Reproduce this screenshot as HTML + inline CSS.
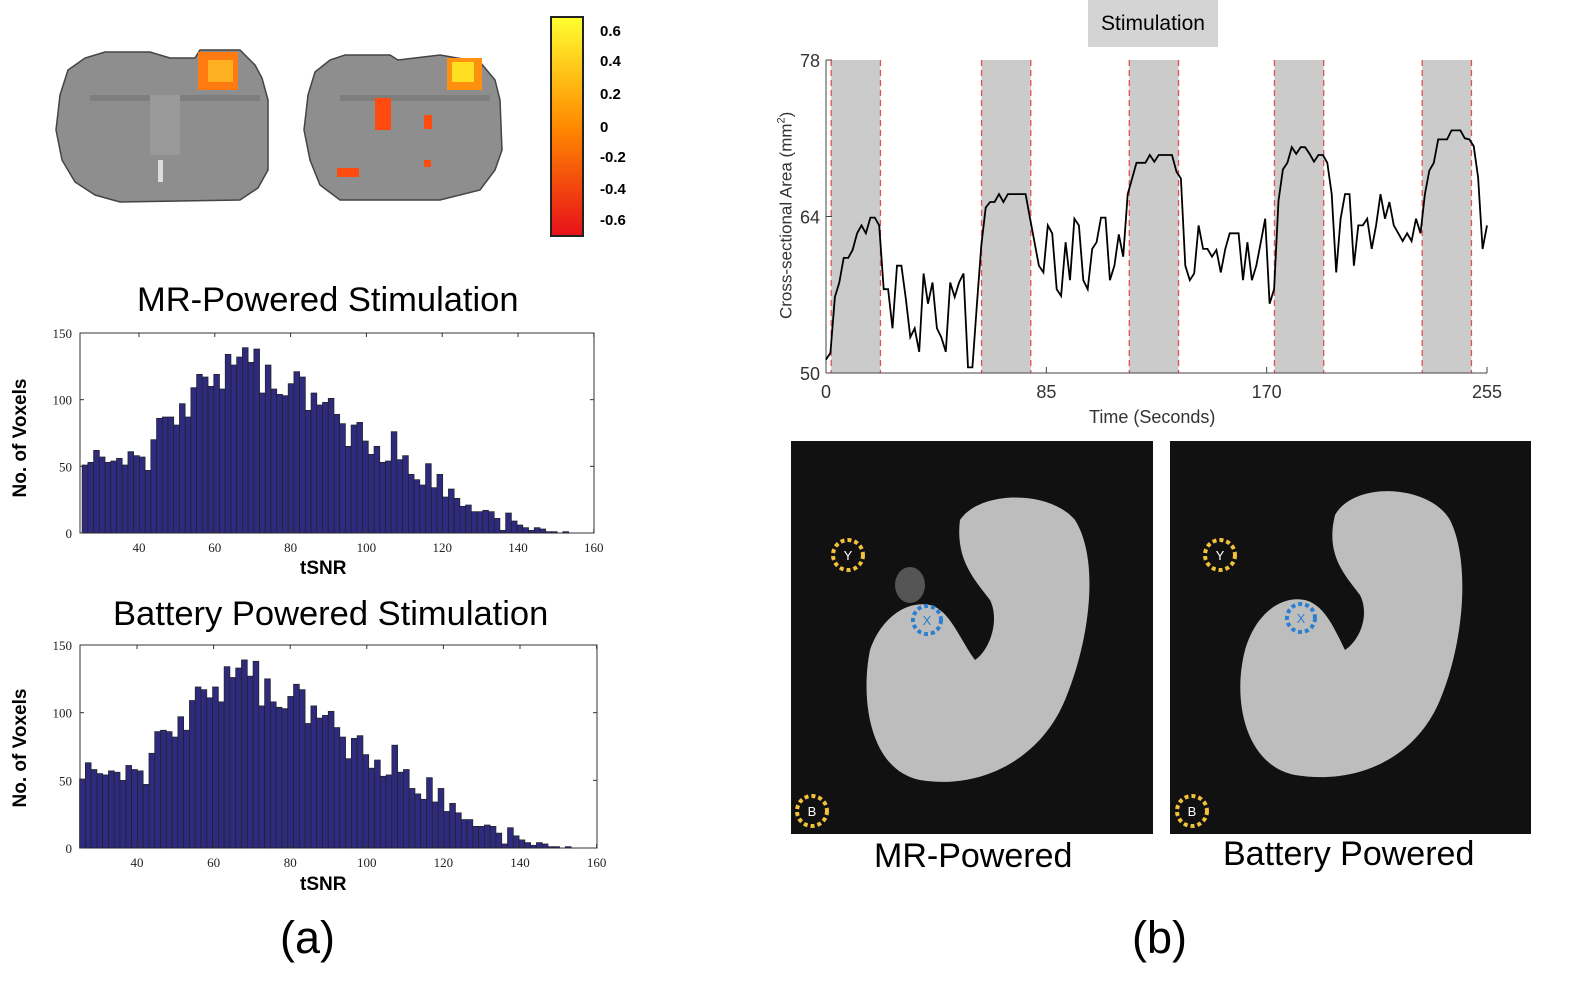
<!DOCTYPE html>
<html><head><meta charset="utf-8">
<style>
html,body{margin:0;padding:0;background:#fff;}
body{width:1572px;height:1001px;position:relative;overflow:hidden;font-family:"Liberation Sans",sans-serif;}
.t{position:absolute;white-space:nowrap;color:#000;}
</style></head>
<body>
<svg id="fig" width="1572" height="1001" style="position:absolute;left:0;top:0">
 <defs>
  <linearGradient id="cb" x1="0" y1="1" x2="0" y2="0">
   <stop offset="0" stop-color="#e8101a"/><stop offset="0.5" stop-color="#ff8a00"/><stop offset="1" stop-color="#ffff30"/>
  </linearGradient>
 </defs>
 <!-- brain slices -->
 <g>
  <path d="M60,95 L68,70 L85,58 L105,52 L150,52 L170,58 L195,58 L200,50 L240,50 L255,65 L262,78 L268,100 L268,170 L258,188 L240,200 L120,202 L95,195 L75,182 L62,160 L56,130 Z" fill="#8e8e8e" stroke="#444" stroke-width="1.5"/>
  <rect x="90" y="95" width="170" height="6" fill="#7e7e7e"/>
  <rect x="150" y="95" width="30" height="60" fill="#999"/>
  <rect x="158" y="160" width="5" height="22" fill="#ddd"/>
  <rect x="198" y="52" width="40" height="38" fill="#ff7a10"/>
  <rect x="208" y="60" width="25" height="22" fill="#ffb020"/>
 </g>
 <g>
  <path d="M308,95 L315,72 L330,60 L345,55 L390,55 L398,60 L440,55 L480,62 L495,80 L500,100 L502,150 L495,170 L480,190 L440,200 L340,200 L320,185 L310,160 L304,130 Z" fill="#8e8e8e" stroke="#444" stroke-width="1.5"/>
  <rect x="340" y="95" width="150" height="6" fill="#7e7e7e"/>
  <rect x="447" y="58" width="35" height="32" fill="#ff9010"/>
  <rect x="452" y="62" width="22" height="20" fill="#ffe020"/>
  <rect x="375" y="98" width="16" height="32" fill="#ff4a10"/>
  <rect x="424" y="115" width="8" height="14" fill="#ff4a10"/>
  <rect x="337" y="168" width="22" height="9" fill="#ff4a10"/>
  <rect x="424" y="160" width="7" height="7" fill="#ff4a10"/>
 </g>
 <rect x="551" y="17" width="32" height="219" fill="url(#cb)" stroke="#222" stroke-width="2"/>
 <g id="cblabels" font-family="Liberation Sans" font-weight="bold" font-size="15" fill="#000"></g>

 <g id="hist1"></g>
 <g id="hist2"></g>
 <g id="line"></g>

 <!-- MRI images -->
 <g>
  <rect x="791" y="441" width="362" height="393" fill="#111"/>
  <path d="M960,520 C980,490 1050,490 1075,520 C1100,560 1090,640 1065,700 C1040,760 980,790 920,780 C870,770 860,700 870,650 C880,620 905,600 930,605 C950,610 960,640 975,660 C990,650 1000,620 990,600 C975,580 955,560 960,520 Z" fill="#bdbdbd"/>
  <ellipse cx="910" cy="585" rx="15" ry="18" fill="#555"/>
  <circle cx="848" cy="555" r="15" fill="none" stroke="#f2c23a" stroke-width="4" stroke-dasharray="4 3"/>
  <text x="848" y="560" font-size="13" fill="#fff" text-anchor="middle">Y</text>
  <circle cx="927" cy="620" r="14" fill="none" stroke="#2a7fd0" stroke-width="4" stroke-dasharray="4 3"/>
  <text x="927" y="625" font-size="13" fill="#2a7fd0" text-anchor="middle">X</text>
  <circle cx="812" cy="811" r="15" fill="none" stroke="#f2c23a" stroke-width="4" stroke-dasharray="4 3"/>
  <text x="812" y="816" font-size="13" fill="#fff" text-anchor="middle">B</text>
 </g>
 <g>
  <rect x="1170" y="441" width="361" height="393" fill="#111"/>
  <path d="M1335,515 C1355,480 1430,485 1450,520 C1470,560 1465,640 1440,700 C1415,760 1355,785 1295,775 C1245,765 1232,700 1245,650 C1255,615 1280,595 1305,600 C1325,605 1335,630 1345,650 C1360,640 1370,615 1360,595 C1345,575 1325,555 1335,515 Z" fill="#bdbdbd"/>
  <circle cx="1220" cy="555" r="15" fill="none" stroke="#f2c23a" stroke-width="4" stroke-dasharray="4 3"/>
  <text x="1220" y="560" font-size="13" fill="#fff" text-anchor="middle">Y</text>
  <circle cx="1301" cy="618" r="14" fill="none" stroke="#2a7fd0" stroke-width="4" stroke-dasharray="4 3"/>
  <text x="1301" y="623" font-size="13" fill="#2a7fd0" text-anchor="middle">X</text>
  <circle cx="1192" cy="811" r="15" fill="none" stroke="#f2c23a" stroke-width="4" stroke-dasharray="4 3"/>
  <text x="1192" y="816" font-size="13" fill="#fff" text-anchor="middle">B</text>
 </g>
</svg>

<div class="t" style="left:137px;top:281px;font-size:34.5px">MR-Powered Stimulation</div>
<div class="t" style="left:113px;top:595px;font-size:34.5px">Battery Powered Stimulation</div>
<div class="t" style="left:-39px;top:427px;font-size:19px;font-weight:bold;transform:rotate(-90deg);width:120px;text-align:center">No. of Voxels</div>
<div class="t" style="left:-39px;top:737px;font-size:19px;font-weight:bold;transform:rotate(-90deg);width:120px;text-align:center">No. of Voxels</div>
<div class="t" style="left:300px;top:558px;font-size:19px;font-weight:bold">tSNR</div>
<div class="t" style="left:300px;top:874px;font-size:19px;font-weight:bold">tSNR</div>
<div class="t" style="left:280px;top:912px;font-size:45px">(a)</div>
<div class="t" style="left:1132px;top:912px;font-size:45px">(b)</div>
<div class="t" style="left:1088px;top:0px;width:130px;height:47px;background:#d4d4d4;font-size:21px;line-height:47px;text-align:center">Stimulation</div>
<div class="t" style="left:676px;top:205px;width:220px;text-align:center;font-size:17px;color:#333;transform:rotate(-90deg)">Cross-sectional Area (mm<sup style="font-size:11px">2</sup>)</div>
<div class="t" style="left:1089px;top:407px;font-size:18px;color:#333">Time (Seconds)</div>
<div class="t" style="left:874px;top:837px;font-size:34px">MR-Powered</div>
<div class="t" style="left:1223px;top:835px;font-size:34px">Battery Powered</div>

<script>
const NS='http://www.w3.org/2000/svg';
function mk(tag,attrs,parent){const e=document.createElementNS(NS,tag);for(const k in attrs)e.setAttribute(k,attrs[k]);parent.appendChild(e);return e;}

// colorbar labels
const cbTicks=['0.6','0.4','0.2','0','-0.2','-0.4','-0.6'];
const cbY=[31,61,94,127,157,189,220];
const cbg=document.getElementById('cblabels');
cbTicks.forEach((t,i)=>{const e=mk('text',{x:600,y:cbY[i]+5},cbg);e.textContent=t;

});

// histogram data
const histStart=25;
const histBinWidth=1.51;
const histCounts1=[51,53,62,57,53,54,56,51,61,58,57,47,70,86,87,87,81,97,87,109,119,117,110,119,108,134,126,132,139,128,138,105,126,108,104,103,112,121,117,92,105,96,98,101,89,82,65,81,83,69,59,65,53,54,76,55,58,44,40,36,52,34,44,27,33,26,20,21,16,16,17,16,11,2,15,9,6,4,2,4,3,1,1,0,1,0];
const histCounts2=[51,63,58,55,54,57,56,50,61,58,57,47,70,86,87,86,82,97,87,109,119,117,111,119,108,134,126,133,139,127,138,105,125,108,104,103,112,121,117,92,105,96,98,101,89,82,66,81,83,69,59,65,53,54,76,56,58,44,40,36,52,34,44,27,33,26,21,21,16,16,17,16,11,3,15,9,6,4,2,4,3,1,1,0,1,0];
const histXTicks=[40,60,80,100,120,140,160];
const histYTicks=[0,50,100,150];

function drawHist(g,counts,box){
  const xs=v=>box.x0+(v-box.vmin)*box.k;
  const ys=c=>box.y1-c/150*(box.y1-box.y0);
  mk('rect',{x:box.xl,y:box.y0,width:box.xr-box.xl,height:box.y1-box.y0,fill:'#fff',stroke:'#333','stroke-width':1},g);
  counts.forEach((c,i)=>{
    const a=xs(histStart+i*histBinWidth),b=xs(histStart+(i+1)*histBinWidth);
    if(c<=0)return;
    const r=mk('rect',{x:a,y:ys(c),width:b-a,height:box.y1-ys(c),fill:'#2e2a7e',stroke:'#222','stroke-width':0.7},g);
    
    
  });
  histXTicks.forEach(t=>{const x=xs(t);
    mk('line',{x1:x,y1:box.y1,x2:x,y2:box.y1-4,stroke:'#333'},g);
    mk('line',{x1:x,y1:box.y0,x2:x,y2:box.y0+4,stroke:'#333'},g);
    const e=mk('text',{x:x,y:box.y1+19,'font-size':13,'text-anchor':'middle',fill:'#222','font-family':'Liberation Serif'},g);e.textContent=t;
    
    });
  histYTicks.forEach(t=>{const y=ys(t);
    mk('line',{x1:box.xl,y1:y,x2:box.xl+4,y2:y,stroke:'#333'},g);
    mk('line',{x1:box.xr,y1:y,x2:box.xr-4,y2:y,stroke:'#333'},g);
    const e=mk('text',{x:box.xl-8,y:y+5,'font-size':13,'text-anchor':'end',fill:'#222','font-family':'Liberation Serif'},g);e.textContent=t;
    
    });
}
drawHist(document.getElementById('hist1'),histCounts1,{xl:80,xr:594,y0:333,y1:533,x0:139,vmin:40,k:3.79});
drawHist(document.getElementById('hist2'),histCounts2,{xl:80,xr:597,y0:645,y1:848,x0:137,vmin:40,k:3.83});

// line chart data
const stimStarts=[2,60,117,173,230];
const stimDuration=19;
const lineValues=[51.2,51.8,56.8,58.1,60.3,60.3,61.0,62.5,63.2,62.5,63.9,63.9,63.2,57.5,57.5,54.0,59.6,59.6,56.6,53.2,54.0,51.9,58.9,56.2,58.1,54.0,53.2,51.9,58.1,56.8,58.1,58.9,50.5,50.5,56.0,61.4,64.8,65.3,65.3,66.0,65.3,66.0,66.0,66.0,66.0,66.0,63.8,61.7,59.6,59.0,63.2,62.5,57.5,56.9,61.7,58.3,63.8,63.2,58.3,57.5,61.1,61.7,63.9,63.9,58.3,59.6,62.4,60.4,66.0,67.4,68.8,68.8,68.8,69.5,68.9,69.5,69.5,69.5,69.5,68.0,67.4,59.6,58.3,58.9,63.2,61.1,61.1,60.4,61.0,59.0,61.1,62.5,62.5,62.5,58.3,61.7,58.3,59.6,61.7,63.8,56.2,57.5,65.4,68.2,68.8,70.2,69.6,70.2,70.2,69.6,68.9,69.5,69.5,68.8,66.0,59.0,63.8,66.0,66.0,59.6,63.2,63.2,63.8,61.1,63.2,66.0,63.8,65.3,63.2,62.5,61.8,62.5,61.8,63.8,62.5,66.0,68.1,68.8,70.9,70.9,70.9,71.7,71.7,71.7,71.0,70.9,70.3,67.5,61.1,63.2];
const lineXTicks=[0,85,170,255];
const lineYTicks=[50,64,78];
const tMax=255;
(function(){
  const g=document.getElementById('line');
  const X=t=>826+t/255*(1487-826);
  const Y=v=>373-(v-50)/28*(373-60);
  stimStarts.forEach(s=>{
    const r=mk('rect',{x:X(s),y:Y(78),width:X(s+stimDuration)-X(s),height:Y(50)-Y(78),fill:'#cbcbcb'},g);
    
    
    [s,s+stimDuration].forEach(t=>mk('line',{x1:X(t),y1:Y(78),x2:X(t),y2:Y(50),stroke:'#e05050','stroke-width':1.3,'stroke-dasharray':'6 4'},g));
  });
  mk('line',{x1:826,y1:Y(50),x2:1487,y2:Y(50),stroke:'#444'},g);
  mk('line',{x1:826,y1:Y(50),x2:826,y2:Y(78),stroke:'#444'},g);
  lineXTicks.forEach(t=>{mk('line',{x1:X(t),y1:Y(50),x2:X(t),y2:Y(50)-6,stroke:'#444'},g);
    const e=mk('text',{x:X(t),y:Y(50)+25,'font-size':18,'text-anchor':'middle',fill:'#333'},g);e.textContent=t;
    
    });
  lineYTicks.forEach(t=>{mk('line',{x1:826,y1:Y(t),x2:832,y2:Y(t),stroke:'#444'},g);
    const e=mk('text',{x:820,y:Y(t)+7,'font-size':18,'text-anchor':'end',fill:'#333'},g);e.textContent=t;
    
    });
  const n=lineValues.length;
  const pts=lineValues.map((v,i)=>X(i*tMax/(n-1)).toFixed(1)+','+Y(v).toFixed(1)).join(' ');
  const p=mk('polyline',{points:pts,fill:'none',stroke:'#000','stroke-width':1.8},g);
  
  
})();
</script>
</body></html>
